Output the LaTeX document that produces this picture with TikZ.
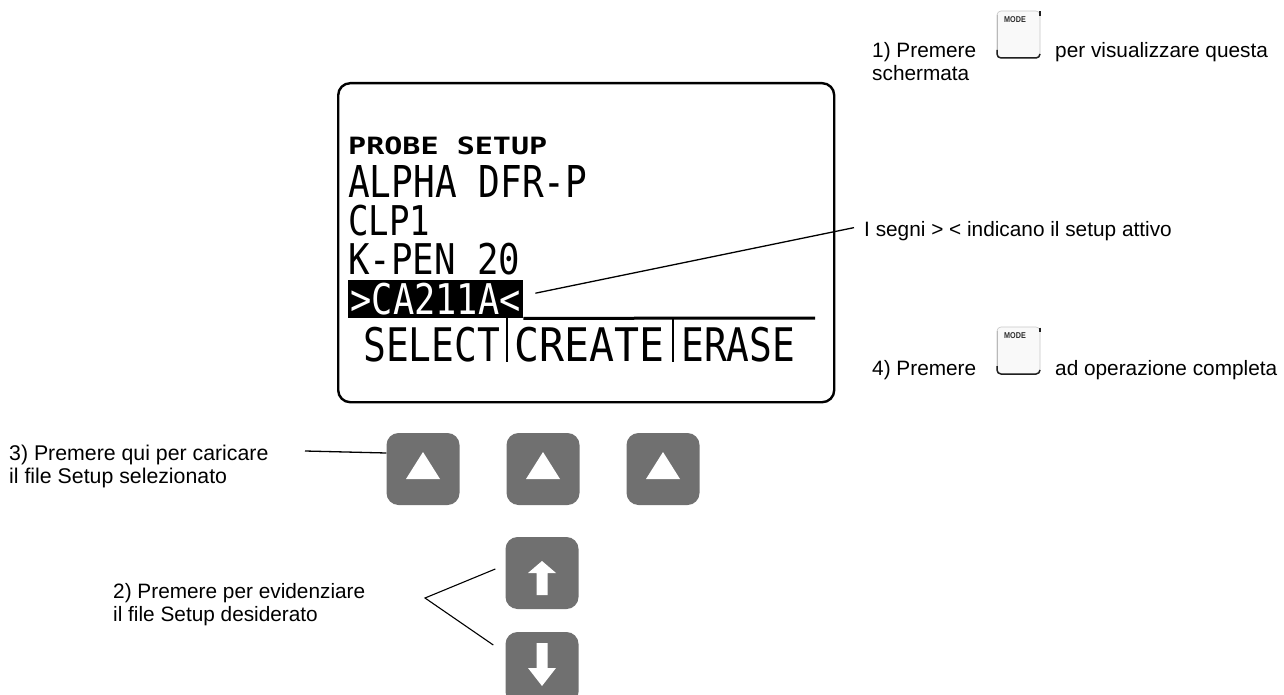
\documentclass[tikz,border=0pt]{standalone}
\usepackage{fontspec}
\setmainfont{Liberation Sans}
\newfontfamily\lcdfont{DejaVu Sans Mono}
\definecolor{keygray}{HTML}{707070}
\tikzset{modekey/.pic={
  \fill[gray!5, rounded corners=4pt] (0,0) rectangle (43,47);
  \draw[gray!45, line width=0.6pt, rounded corners=4pt] (0,0) rectangle (43,47);
  \draw[gray!55, line width=1pt] (0,4) -- (0,40);
  \draw[gray!25!black, line width=1.5pt, rounded corners=4pt] (0,39) -- (0,47) -- (43,47) -- (43,43);
  \draw[gray!25!black, line width=1.5pt] (43,0.5) -- (43,5);
  \node[font=\fontsize{8.5}{8.5}\selectfont\bfseries, text=gray!35!black, inner sep=0pt] at (18,9) {\scalebox{0.85}[1]{MODE}};
}}
\begin{document}
\begin{tikzpicture}[x=1pt,y=-1pt,
  lbl/.style={anchor=base west, inner sep=0pt, font=\fontsize{20.8}{24}\selectfont},
  lcd/.style={anchor=north west, inner sep=0pt},
  softkey/.style={fill=keygray, rounded corners=12pt, minimum width=73pt, minimum height=72pt, inner sep=0pt},
  leader/.style={line width=1.3pt},
]
\useasboundingbox (0,0) rectangle (1284,695);
% LCD screen
\node[draw, line width=2.4pt, rounded corners=12pt, minimum width=496pt, minimum height=319pt, anchor=north west, inner sep=0pt] (screen) at (337,82) {};
\node[lcd] (title) at (348,137) {\resizebox*{199pt}{18pt}{\lcdfont\bfseries PROBE SETUP}};
\node[lcd] (p1) at (348,165) {\resizebox*{239pt}{32pt}{\lcdfont ALPHA DFR-P}};
\node[lcd] (p2) at (348,205) {\resizebox*{82pt}{31pt}{\lcdfont CLP1}};
\node[lcd] (p3) at (348,243) {\resizebox*{172pt}{32pt}{\lcdfont K-PEN 20}};
\node[fill=black, anchor=north west, minimum width=175pt, minimum height=38pt, inner sep=0pt] (sel) at (348,280) {};
\node[text=white, inner sep=0pt] (p4) at (sel.center) {\resizebox*{170pt}{32pt}{\lcdfont >CA211A<}};
\draw[line width=3pt] (sel.south east) -- (815,318);
\node[lcd] (m1) at (363,327) {\resizebox*{137pt}{35pt}{\lcdfont SELECT}};
\node[lcd] (m2) at (514,327) {\resizebox*{150pt}{35pt}{\lcdfont CREATE}};
\node[lcd] (m3) at (681,327) {\resizebox*{114pt}{35pt}{\lcdfont ERASE}};
\draw[line width=2.5pt] (507,318) -- (507,362);
\draw[line width=2.5pt] (673,318) -- (673,362);
% right texts
\node[lbl] (t1a) at (872,58) {1) Premere};
\pic at (997,11) {modekey};
\node[lbl] (t1b) at (1055,58) {per visualizzare questa};
\node[lbl] (t1c) at (872,81) {schermata};
\node[lbl] (seg) at (864,236) {I segni > < indicano il setup attivo};
\node[lbl] (t4a) at (872,375) {4) Premere};
\pic at (997,327) {modekey};
\node[lbl] (t4b) at (1055,375) {ad operazione completa};
\draw[leader] ([xshift=12pt,yshift=6pt]sel.east) -- ([xshift=-10pt,yshift=3pt]seg.west);
% soft keys
\node[softkey] (k1) at (423,469) {};
\node[softkey] (k2) at (543,469) {};
\node[softkey] (k3) at (663,469) {};
\foreach \k in {k1,k2,k3} \fill[white] (\k.center) ++(-17,10) -- ++(34,0) -- ++(-17,-27) -- cycle;
\node[lbl, font=\fontsize{21.3}{24}\selectfont] (t3a) at (9,460) {3) Premere qui per caricare};
\node[lbl, font=\fontsize{21.3}{24}\selectfont] (t3b) at (9,483) {il file Setup selezionato};
\coordinate (c3) at (305,451);
\draw[leader] (c3) -- ([yshift=16pt]k1.west);
% arrow keys
\node[softkey] (up) at (542,573) {};
\node[softkey] (down) at (542,668) {};
\fill[white] (up.center) ++(0,-12) -- ++(14,12) -- ++(-8.5,0) -- ++(0,22) -- ++(-11,0) -- ++(0,-22) -- ++(-8.5,0) -- cycle;
\fill[white] (down.center) ++(0,18) -- ++(14,-18) -- ++(-8.5,0) -- ++(0,-25) -- ++(-11,0) -- ++(0,25) -- ++(-8.5,0) -- cycle;
\node[lbl] (t2a) at (113,598) {2) Premere per evidenziare};
\node[lbl] (t2b) at (113,621) {il file Setup desiderato};
\coordinate (v2) at (425,598);
\draw[leader, line width=1.1pt] ([xshift=-10pt,yshift=4pt]up.west) -- (v2) -- ([xshift=-12pt,yshift=23pt]down.west);
\end{tikzpicture}
\end{document}
